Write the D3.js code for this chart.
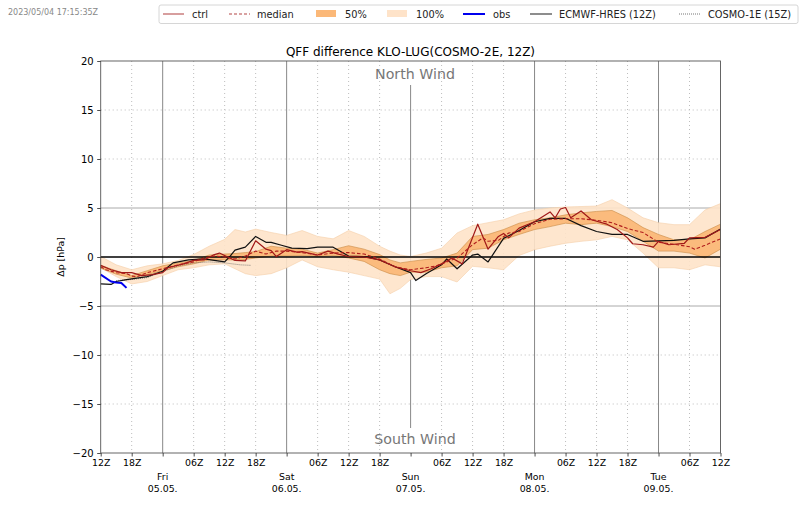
<!DOCTYPE html>
<html><head><meta charset="utf-8">
<script src="https://cdn.jsdelivr.net/npm/d3@7"></script>
<style>
html,body{margin:0;padding:0;background:#fff}
svg{display:block}
text{font-family:"DejaVu Sans",sans-serif;fill:#000}
</style></head><body><svg id="c" width="800" height="509"></svg>
<script>
const title = "QFF difference KLO-LUG(COSMO-2E, 12Z)";
const stamp = "2023/05/04 17:15:35Z";
const yTicks = [-20,-15,-10,-5,0,5,10,15,20];
const labelledHours = [0,6,18,24,30,42,48,54,66,72,78,90,96,102,114,120];
const hourLabels = ["12Z","18Z","06Z","12Z","18Z","06Z","12Z","18Z","06Z","12Z","18Z","06Z","12Z","18Z","06Z","12Z"];
const dayHours = [12,36,60,84,108];
const dayNames = ["Fri","Sat","Sun","Mon","Tue"];
const dayDates = ["05.05.","06.05.","07.05.","08.05.","09.05."];
const gridHours = [6,18,24,30,42,48,54,66,72,78,90,96,102,114];

const bandHours = [0,3,6,9,12,15,18,21,24,26,28,30,33,36,39,42,45,48,51,54,56,58,60,63,66,69,72,75,78,81,84,87,90,93,96,99,102,105,108,111,114,117,120];
const hi100 = [.05,-.8,-1.3,-.9,-.7,-.35,.25,1.1,1.8,2.8,2.55,2.85,2.5,2.2,2.7,2.1,1.85,2.7,2.1,1.1,.6,.2,.05,.4,.9,2.45,3.2,3.5,3.8,4.4,4.8,5,5.1,5.15,5.2,5.85,5,4,3.5,3.3,3.3,4.8,5.45];
const lo100 = [-1.1,-2,-2.75,-2.5,-1.9,-1.3,-1.1,-.8,-.7,-1.2,-1.7,-1.9,-1.7,-1.1,-.3,-1,-1.3,-1.55,-1.9,-2.25,-3.75,-3.2,-2.3,-2,-2,-2.55,-.95,-1.1,-1.3,.15,.75,1.1,1.4,1.6,1.75,2.1,1.75,.4,-1.1,-1.1,-1.3,-.8,-1];
const hi50 = [-.85,-1.4,-1.9,-1.4,-.9,-.6,-.35,.2,.3,.35,.45,.55,1.1,.9,.8,.4,.75,1.15,.8,.25,-.3,-.6,-.45,-.25,-.1,.4,2.1,2.3,2.8,3.45,3.8,4,4.3,4.5,4.65,4.75,4,3,2.3,1.75,1.75,2.6,3.35];
const lo50 = [-1.15,-1.75,-2.15,-1.8,-1.4,-1,-.7,-.3,-.3,-.3,-.25,-.1,.1,.1,.15,.05,.15,-.1,-.45,-1.3,-1.7,-1.9,-1.55,-1.55,-1.1,-.9,.75,.9,1.75,2.3,2.8,3.1,3.45,3.3,3.45,3.1,2.6,1.6,.6,.6,.4,-.1,.8];

const medianHours = [0,1,3,5,6,7,9,12,15,18,20,22,24,26,28,30,32,34,36,39,42,45,48,51,54,57,60,63,65,67,69,72,74,75,77,79,81,84,87,90,93,96,99,102,105,108,111,114,115,117,120];
const medianValues = [-1,-1.3,-1.6,-1.7,-1.95,-2,-1.6,-1.2,-.8,-.5,-.1,.1,0,-.2,.1,.6,.3,.6,.6,.45,.2,.4,.45,.3,-.2,-1,-1.3,-1.1,-.9,-.5,-.1,1.25,1.95,1.6,1.7,2.45,2.6,3.4,3.85,3.9,3.9,3.75,3.5,2.9,2.5,1.5,1.3,1.05,.8,1.2,1.85];

const ctrlHours = [0,2,4,6,8,10,12,13,16,18,20,22,23,25,26,28,30,32,33,34,36,38,39,42,44,46,48,51,54,57,60,62,64,66,68,70,73,75,77,78,79,81,84,87,88,89,90,91,93,95,98,100,102,103,105,107,108,110,113,114,117,120];
const ctrlValues = [-.85,-1.3,-1.6,-1.6,-1.9,-1.8,-1.6,-1.1,-.7,-.35,-.3,.25,.4,-.1,-.35,-.4,1.65,.8,.65,.05,.75,.5,.55,.2,.6,.3,.05,0,-.3,-1,-1.4,-1.6,-1.2,-.7,-.1,-.7,3.35,.8,2.1,2.4,1.95,2.95,3.6,4.6,4,4.9,5.05,4,4.7,3.8,3.35,2.8,1.95,1.35,1.25,1,1.6,1.25,1.4,1.95,2,2.8];

const ecmwfHours = [0,2,3,5,7,9,12,14,17,20,22,24,25,26,28,30,32,33,35,37,40,42,45,48,51,54,57,60,61,63,66,67,69,72,73,75,78,81,84,87,90,93,96,99,102,105,108,111,114,117,120];
const ecmwfValues = [-2.75,-2.8,-2.5,-2.3,-2.15,-2,-1.45,-.6,-.3,-.2,-.35,-.5,.05,.7,1,2.1,1.5,1.5,1.2,.9,.85,1,1,.1,.05,-.3,-1,-1.6,-2.4,-1.7,-.8,-.2,-1.2,.2,.3,-.5,1.9,2.7,3.6,3.95,3.95,3.2,2.6,2.3,2.3,1.6,1.65,1.7,1.85,1.95,2.85];

const cosmo1Hours = [3,6,9,12,15,18,21,24,27,29];
const cosmo1Values = [-2.4,-2.3,-2.1,-1.5,-.9,-.6,-.5,-.6,-.8,-.85];

const obsHours = [0,2,3,4,5];
const obsValues = [-1.8,-2.5,-2.6,-2.65,-3.15];

const legendLabels = ["ctrl","median","50%","100%","obs","ECMWF-HRES (12Z)","COSMO-1E (15Z)"];

const x = d3.scaleLinear().domain([0,120]).range([100.7,720.5]);
const y = d3.scaleLinear().domain([-20,20]).range([453,61]);
const svg = d3.select("#c");
const pair = (hs,vs)=>hs.map((h,i)=>[h,vs[i]]);
const line = d3.line().x(d=>x(d[0])).y(d=>y(d[1]));
const area = (h,l)=>d3.area().x((d,i)=>x(bandHours[i])).y0((d,i)=>y(l[i])).y1((d,i)=>y(h[i]))(bandHours);

// grid
const grid = svg.append("g");
gridHours.forEach(h=>grid.append("line").attr("x1",x(h)).attr("x2",x(h)).attr("y1",61).attr("y2",453)
  .attr("stroke","#bdbdbd").attr("stroke-width",1).attr("stroke-dasharray","1,3"));
[-15,-10,10,15].forEach(v=>grid.append("line").attr("x1",100.7).attr("x2",720.5).attr("y1",y(v)).attr("y2",y(v))
  .attr("stroke","#bdbdbd").attr("stroke-width",1).attr("stroke-dasharray","1,3"));
[-5,5].forEach(v=>grid.append("line").attr("x1",100.7).attr("x2",720.5).attr("y1",y(v)).attr("y2",y(v)).attr("stroke","#aaa").attr("stroke-width",1));
dayHours.forEach(h=>{ if(h!==60) grid.append("line").attr("x1",x(h)).attr("x2",x(h)).attr("y1",61).attr("y2",453).attr("stroke","#888").attr("stroke-width",1);});
grid.append("line").attr("x1",x(60)).attr("x2",x(60)).attr("y1",85).attr("y2",428).attr("stroke","#888").attr("stroke-width",1);

// bands
svg.append("path").attr("d",area(hi100,lo100)).attr("fill","#fee3c9").attr("fill-opacity",.9).attr("stroke","#f5cfa8").attr("stroke-opacity",.6).attr("stroke-width",1);
svg.append("path").attr("d",area(hi50,lo50)).attr("fill","#fbb878").attr("fill-opacity",.95).attr("stroke","#c98a45").attr("stroke-opacity",.6).attr("stroke-width",1);

// zero line
svg.append("line").attr("x1",100.7).attr("x2",720.5).attr("y1",y(0)).attr("y2",y(0)).attr("stroke","#000").attr("stroke-width",1.5);

// series
const draw=(hs,vs,col,w,dash)=>svg.append("path").attr("d",line(pair(hs,vs))).attr("fill","none").attr("stroke",col).attr("stroke-width",w).attr("stroke-dasharray",dash||null).attr("stroke-linejoin","round");
draw(cosmo1Hours,cosmo1Values,"#666",.8,"1,1");
draw(ecmwfHours,ecmwfValues,"#111",1.2);
draw(ctrlHours,ctrlValues,"#a01818",1.2);
draw(medianHours,medianValues,"#b01c1c",1.1,"3.5,2");
draw(obsHours,obsValues,"#0000ee",2);

// frame
svg.append("rect").attr("x",100.7).attr("y",61).attr("width",619.8).attr("height",392).attr("fill","none").attr("stroke","#555").attr("stroke-width",.9);

// y axis
const yAxis = d3.axisLeft(y).tickValues(yTicks).tickSize(3.5).tickPadding(3.5).tickFormat(d=>d<0?"\u2212"+(-d):d);
const gy = svg.append("g").attr("transform","translate(100.7,0)").call(yAxis);
gy.select(".domain").remove();
gy.selectAll("text").attr("font-size",10).style("font-family",'"DejaVu Sans",sans-serif');
gy.selectAll("line").attr("stroke","#222").attr("stroke-width",.8);

// x axis
const xAxis = d3.axisBottom(x).tickValues(labelledHours.concat(dayHours)).tickSize(3.5).tickPadding(2.5).tickFormat(d=>{const i=labelledHours.indexOf(d);return i<0?"":hourLabels[i];});
const gx = svg.append("g").attr("transform","translate(0,453)").call(xAxis);
gx.select(".domain").remove();
gx.selectAll("text").attr("font-size",9.4).style("font-family",'"DejaVu Sans",sans-serif');
gx.selectAll("line").attr("stroke","#222").attr("stroke-width",.8);
dayHours.forEach((h,i)=>{
  svg.append("text").attr("x",x(h)).attr("y",480).attr("text-anchor","middle").attr("font-size",9.4).text(dayNames[i]);
  svg.append("text").attr("x",x(h)).attr("y",492).attr("text-anchor","middle").attr("font-size",9.4).text(dayDates[i]);
});

// texts
svg.append("text").attr("x",410.5).attr("y",55.5).attr("text-anchor","middle").attr("font-size",12).text(title);
svg.append("text").attr("x",8).attr("y",15).attr("font-size",8).style("fill","#888").text(stamp);
svg.append("text").attr("transform","translate(64,257) rotate(-90)").attr("text-anchor","middle").attr("font-size",9.4).text("\u0394p [hPa]");
svg.append("text").attr("x",415).attr("y",79).attr("text-anchor","middle").attr("font-size",14.2).style("fill","#777").text("North Wind");
svg.append("text").attr("x",415).attr("y",444).attr("text-anchor","middle").attr("font-size",14.2).style("fill","#777").text("South Wind");

// legend
svg.append("rect").attr("x",159).attr("y",5).attr("width",639).attr("height",18.5).attr("rx",2).attr("fill","#fff").attr("stroke","#ccc").attr("stroke-width",.8);
const lx = [163,229,316,387,463,530,679];
const tx = [192,257,345,416,493,559,708];
const lw = [21,21,20,20,22,22,21];
legendLabels.forEach((t,i)=>{
  svg.append("text").attr("x",tx[i]).attr("y",17.5).attr("font-size",9.8).style("fill","#222").text(t);
});
const ly=14;
const seg=(i,col,w,dash,op)=>svg.append("line").attr("x1",lx[i]).attr("x2",lx[i]+lw[i]).attr("y1",ly).attr("y2",ly).attr("stroke",col).attr("stroke-width",w).attr("stroke-dasharray",dash||null).attr("stroke-opacity",op||1);
seg(0,"#a01818",1.2,null,.7);
seg(1,"#a01818",1.2,"3,2",.8);
svg.append("rect").attr("x",lx[2]).attr("y",10).attr("width",lw[2]).attr("height",7).attr("fill","#fbb878");
svg.append("rect").attr("x",lx[3]).attr("y",10).attr("width",lw[3]).attr("height",7).attr("fill","#fee3c9");
seg(4,"#0000ee",2);
seg(5,"#111",1.2,null,.8);
seg(6,"#777",1,"1,1");
</script></body></html>
